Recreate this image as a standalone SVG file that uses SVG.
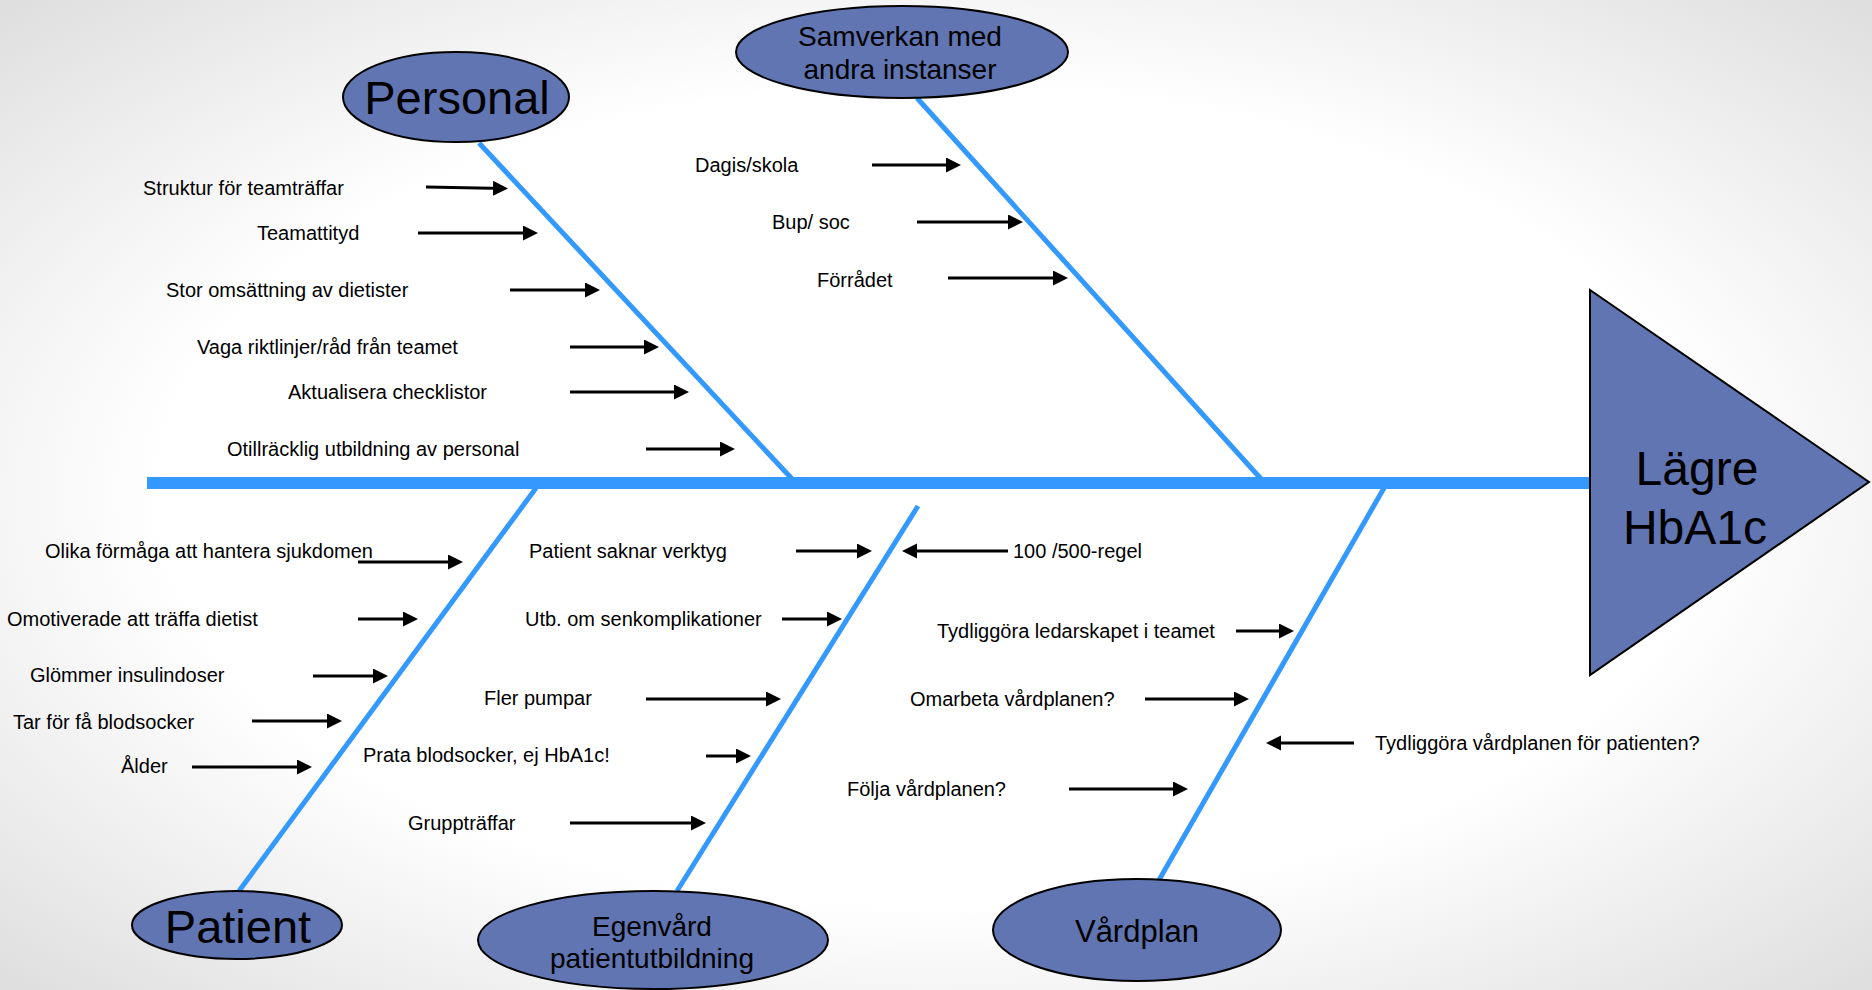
<svg xmlns="http://www.w3.org/2000/svg" width="1872" height="990" viewBox="0 0 1872 990">
<defs>
<radialGradient id="bg" cx="50%" cy="50%" r="75%">
<stop offset="0" stop-color="#ffffff"/>
<stop offset="0.55" stop-color="#ffffff"/>
<stop offset="1" stop-color="#d9d9d9"/>
</radialGradient>
<marker id="ah" markerUnits="userSpaceOnUse" markerWidth="16" markerHeight="16" refX="11" refY="7.5" orient="auto">
<path d="M0,0 L15,7.5 L0,15 z" fill="#000"/>
</marker>
</defs>
<style>
.lbl{font-family:"Liberation Sans",Arial,sans-serif;font-size:20px;fill:#000}
.arr{stroke:#000;stroke-width:3;fill:none;marker-end:url(#ah)}
.bone{stroke:#3399ff;stroke-width:5;fill:none}
.cat{fill:#6075b2;stroke:#000;stroke-width:2}
.ct{font-family:"Liberation Sans",Arial,sans-serif;fill:#000;text-anchor:middle}
</style>
<rect x="0" y="0" width="1872" height="990" fill="url(#bg)"/>

<g id="connectors">
<line x1="147" y1="483" x2="1597" y2="483" stroke="#3399ff" stroke-width="12"/>
<line class="bone" x1="479" y1="143" x2="793" y2="480"/>
<line class="bone" x1="917" y1="98" x2="1262" y2="480"/>
<line class="bone" x1="536" y1="488" x2="239" y2="891"/>
<line class="bone" x1="918" y1="506" x2="677" y2="891"/>
<line class="bone" x1="1384" y1="488" x2="1159" y2="880"/>

<line class="arr" x1="426" y1="187" x2="504" y2="188.5"/>
<line class="arr" x1="418" y1="233" x2="534" y2="233"/>
<line class="arr" x1="510" y1="290" x2="596" y2="290"/>
<line class="arr" x1="570" y1="347" x2="655" y2="347"/>
<line class="arr" x1="570" y1="392" x2="685" y2="392"/>
<line class="arr" x1="646" y1="449" x2="731" y2="449"/>

<line class="arr" x1="872" y1="165" x2="957" y2="165"/>
<line class="arr" x1="917" y1="222" x2="1019" y2="222"/>
<line class="arr" x1="948" y1="278" x2="1064" y2="278"/>

<line class="arr" x1="358" y1="562" x2="459" y2="562"/>
<line class="arr" x1="358" y1="619" x2="414" y2="619"/>
<line class="arr" x1="313" y1="676" x2="384" y2="676"/>
<line class="arr" x1="252" y1="721" x2="338" y2="721"/>
<line class="arr" x1="192" y1="767" x2="308" y2="767"/>

<line class="arr" x1="796" y1="551" x2="868" y2="551"/>
<line class="arr" x1="782" y1="619" x2="838" y2="619"/>
<line class="arr" x1="646" y1="699" x2="777" y2="699"/>
<line class="arr" x1="706" y1="756" x2="747" y2="756"/>
<line class="arr" x1="570" y1="823" x2="702" y2="823"/>

<line class="arr" x1="1008" y1="551" x2="906" y2="551"/>

<line class="arr" x1="1236" y1="631" x2="1290" y2="631"/>
<line class="arr" x1="1145" y1="699" x2="1245" y2="699"/>
<line class="arr" x1="1354" y1="743" x2="1270" y2="743"/>
<line class="arr" x1="1069" y1="789" x2="1184" y2="789"/>
</g>

<g id="labels">
<text class="lbl" x="143" y="195">Struktur för teamträffar</text>
<text class="lbl" x="257" y="240">Teamattityd</text>
<text class="lbl" x="166" y="297">Stor omsättning av dietister</text>
<text class="lbl" x="197" y="354">Vaga riktlinjer/råd från teamet</text>
<text class="lbl" x="288" y="399">Aktualisera checklistor</text>
<text class="lbl" x="227" y="456">Otillräcklig utbildning av personal</text>

<text class="lbl" x="695" y="172">Dagis/skola</text>
<text class="lbl" x="772" y="229">Bup/ soc</text>
<text class="lbl" x="817" y="287">Förrådet</text>

<text class="lbl" x="45" y="558">Olika förmåga att hantera sjukdomen</text>
<text class="lbl" x="7" y="626">Omotiverade att träffa dietist</text>
<text class="lbl" x="30" y="682">Glömmer insulindoser</text>
<text class="lbl" x="13" y="729">Tar för få blodsocker</text>
<text class="lbl" x="121" y="773">Ålder</text>

<text class="lbl" x="529" y="558">Patient saknar verktyg</text>
<text class="lbl" x="525" y="626">Utb. om senkomplikationer</text>
<text class="lbl" x="484" y="705">Fler pumpar</text>
<text class="lbl" x="363" y="762">Prata blodsocker, ej HbA1c!</text>
<text class="lbl" x="408" y="830">Gruppträffar</text>

<text class="lbl" x="1013" y="558">100 /500-regel</text>

<text class="lbl" x="937" y="638">Tydliggöra ledarskapet i teamet</text>
<text class="lbl" x="910" y="706">Omarbeta vårdplanen?</text>
<text class="lbl" x="1375" y="750">Tydliggöra vårdplanen för patienten?</text>
<text class="lbl" x="847" y="796">Följa vårdplanen?</text>
</g>

<g id="node-personal">
<ellipse class="cat" cx="456" cy="97" rx="113" ry="45"/>
<text class="ct" x="457" y="114" font-size="47">Personal</text>
</g>

<g id="node-samverkan">
<ellipse class="cat" cx="902" cy="52" rx="166" ry="46"/>
<text class="ct" x="900" y="46" font-size="28">Samverkan med</text>
<text class="ct" x="900" y="79" font-size="28">andra instanser</text>
</g>

<g id="node-patient">
<ellipse class="cat" cx="237" cy="925" rx="105" ry="34"/>
<text class="ct" x="238" y="943" font-size="47">Patient</text>
</g>

<g id="node-egenvard">
<ellipse class="cat" cx="653" cy="940" rx="175" ry="49"/>
<text class="ct" x="652" y="936" font-size="28">Egenvård</text>
<text class="ct" x="652" y="968" font-size="28">patientutbildning</text>
</g>

<g id="node-vardplan">
<ellipse class="cat" cx="1137" cy="930" rx="144" ry="51"/>
<text class="ct" x="1137" y="942" font-size="31">Vårdplan</text>
</g>

<g id="node-effect">
<polygon class="cat" points="1590,290 1869,482 1590,675"/>
<text class="ct" x="1697" y="485" font-size="48">Lägre</text>
<text class="ct" x="1695" y="544" font-size="48">HbA1c</text>
</g>
</svg>
